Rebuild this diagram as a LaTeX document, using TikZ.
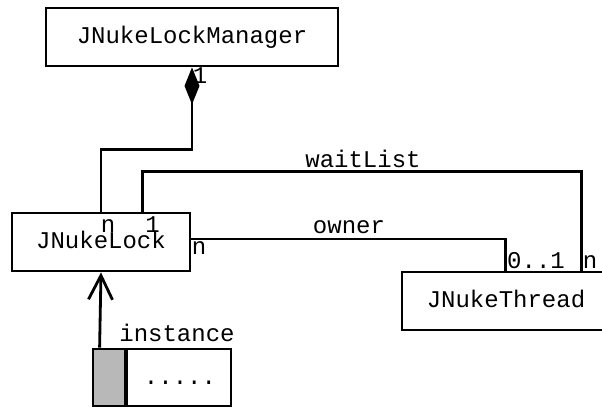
\documentclass[tikz,border=0pt]{standalone}
\usepackage{fontspec}
\setmainfont{Liberation Mono}
\usetikzlibrary{arrows.meta,calc}
\begin{document}
\begin{tikzpicture}[x=1pt,y=-1pt,
 every node/.style={font=\fontsize{24}{28}\selectfont},
 cls/.style={draw, line width=2.8pt, inner sep=0pt, minimum height=58pt, text height=13pt, text depth=0pt, align=center},
 conn/.style={line width=2.8pt},
 lbl/.style={anchor=base, inner sep=0pt}]
\useasboundingbox (0,0) rectangle (602,407);
\node[cls, minimum width=292pt] (mgr) at (192,37) {JNukeLockManager};
\node[cls, minimum width=178pt] (lock) at (101,242) {JNukeLock};
\node[cls, minimum width=208pt] (thread) at (506,301) {JNukeThread};
% instance box
\fill[black!28] (93,349) rectangle (127,406);
\node[draw, line width=2.8pt, minimum width=138pt, minimum height=57pt, inner sep=0pt] (inst) at (162,377.5) {};
\draw[line width=4.5pt] ($(inst.north west)+(34.5,0)$) -- ($(inst.south west)+(34.5,0)$);
\node[lbl] (dots) at (180,384) {.....};
% connectors
\draw[conn, {Diamond[length=37pt,width=15pt]}-] (mgr.south) -- ++(0,82) -| (lock.north);
\draw[conn] ($(lock.north west)+(132,0)$) -- ++(0,-40) -| ($(thread.north west)+(181,0)$);
\draw[conn] ($(lock.east)+(0,-3)$) -| ($(thread.north west)+(105,0)$);
\draw[conn, -{Straight Barb[length=24pt,width=24pt]}] ($(inst.north west)+(8,0)$) -- (lock.south);
% labels
\node[lbl] (m1) at (200,83) {1};
\node[lbl] (ln) at (108,232) {n};
\node[lbl] (l1) at (152.5,232) {1};
\node[lbl] (lr) at (199,254) {n};
\node[lbl] (t01) at (536,268) {0..1};
\node[lbl] (tn) at (590,268) {n};
\node[lbl] (wl) at (363,167) {waitList};
\node[lbl] (ow) at (349,233) {owner};
\node[lbl] (in) at (177,341) {instance};
\end{tikzpicture}
\end{document}
